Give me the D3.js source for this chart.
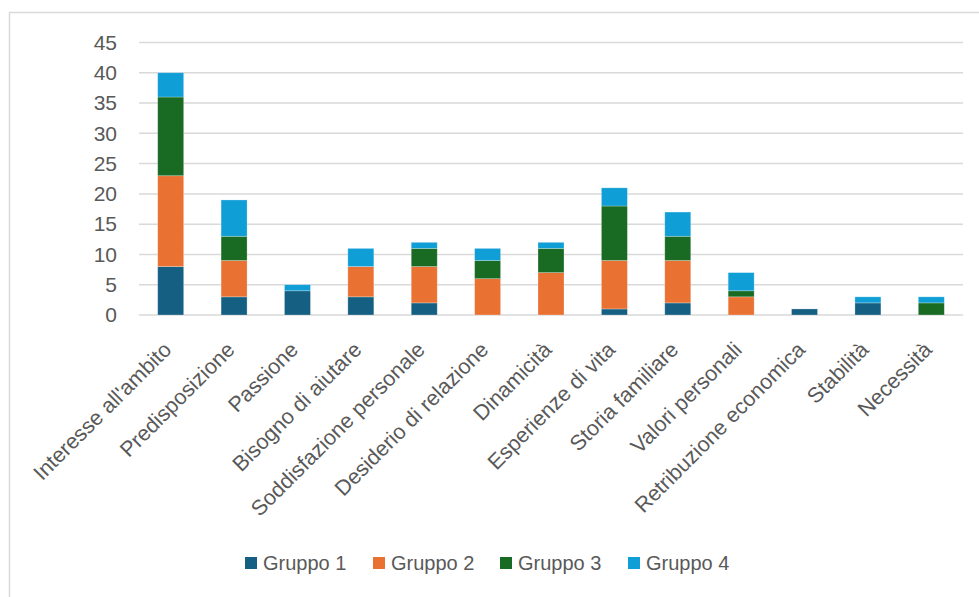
<!DOCTYPE html>
<html><head><meta charset="utf-8">
<script src="https://cdn.jsdelivr.net/npm/d3@7"></script>
<style>body{margin:0;background:#fff}svg{display:block}text{font-family:"Liberation Sans",Arial,sans-serif;fill:#595959}</style>
</head><body>
<script>
const categories = ["Interesse all'ambito","Predisposizione","Passione","Bisogno di aiutare","Soddisfazione personale","Desiderio di relazione","Dinamicità","Esperienze di vita","Storia familiare","Valori personali","Retribuzione economica","Stabilità","Necessità"];
const seriesNames = ["Gruppo 1","Gruppo 2","Gruppo 3","Gruppo 4"];
const gruppo1 = [8,3,4,3,2,0,0,1,2,0,1,2,0];
const gruppo2 = [15,6,0,5,6,6,7,8,7,3,0,0,0];
const gruppo3 = [13,4,0,0,3,3,4,9,4,1,0,0,2];
const gruppo4 = [4,6,1,3,1,2,1,3,4,3,0,1,1];
const yTicks = [0,5,10,15,20,25,30,35,40,45];
const colors = ["#156082","#E97132","#196B24","#0F9ED5"];

const W=979,H=597;
const FONT="\"Liberation Sans\",Arial,sans-serif";
const svg=d3.select("body").append("svg").attr("width",W).attr("height",H);
svg.append("rect").attr("x",9.5).attr("y",12.5).attr("width",W).attr("height",H).attr("fill","none").attr("stroke","#d9d9d9").attr("stroke-width",1.5);

const x=d3.scaleBand().domain(categories).range([139,963]).paddingInner(0.59).paddingOuter(0.295);
const y=d3.scaleLinear().domain([0,45]).range([315,42.5]);

svg.append("g").selectAll("line").data(yTicks).join("line")
 .attr("x1",139).attr("x2",963).attr("y1",d=>y(d)).attr("y2",d=>y(d))
 .attr("stroke","#d9d9d9").attr("stroke-width",1.5);

const yAxis=svg.append("g").attr("transform","translate(139,0)").call(d3.axisLeft(y).tickValues(yTicks).tickSize(0).tickPadding(22));
yAxis.select(".domain").remove();
yAxis.selectAll("text").style("font-size","21px").attr("fill","#595959").style("font-family",FONT);

const rows=categories.map((c,i)=>({cat:c,"Gruppo 1":gruppo1[i],"Gruppo 2":gruppo2[i],"Gruppo 3":gruppo3[i],"Gruppo 4":gruppo4[i]}));
const stack=d3.stack().keys(seriesNames)(rows);
svg.append("g").selectAll("g").data(stack).join("g").attr("fill",(d,i)=>colors[i])
 .selectAll("rect").data(d=>d.filter(e=>e[1]-e[0]>0)).join("rect")
 .attr("x",d=>x(d.data.cat)).attr("width",x.bandwidth())
 .attr("y",d=>y(d[1])).attr("height",d=>y(d[0])-y(d[1]))
 .attr("stroke","#ffffff").attr("stroke-opacity",0.35).attr("stroke-width",0.75);

const xAxis=svg.append("g").attr("transform","translate(0,315)").call(d3.axisBottom(x).tickSize(0).tickPadding(0));
xAxis.select(".domain").remove();
xAxis.selectAll("text").style("font-size","21.5px").attr("fill","#595959").style("font-family",FONT)
 .attr("text-anchor","end").attr("dy","0").attr("y",0)
 .attr("transform","translate(2,36) rotate(-45)");

const leg=svg.append("g");
const legX=[245,373,500,628];
seriesNames.forEach((s,i)=>{
 leg.append("rect").attr("x",legX[i]).attr("y",557).attr("width",12).attr("height",12).attr("fill",colors[i]);
 leg.append("text").attr("x",legX[i]+18).attr("y",563).attr("dy","0.35em").style("font-size","20px").style("font-family",FONT).text(s);
});
</script>
</body></html>
